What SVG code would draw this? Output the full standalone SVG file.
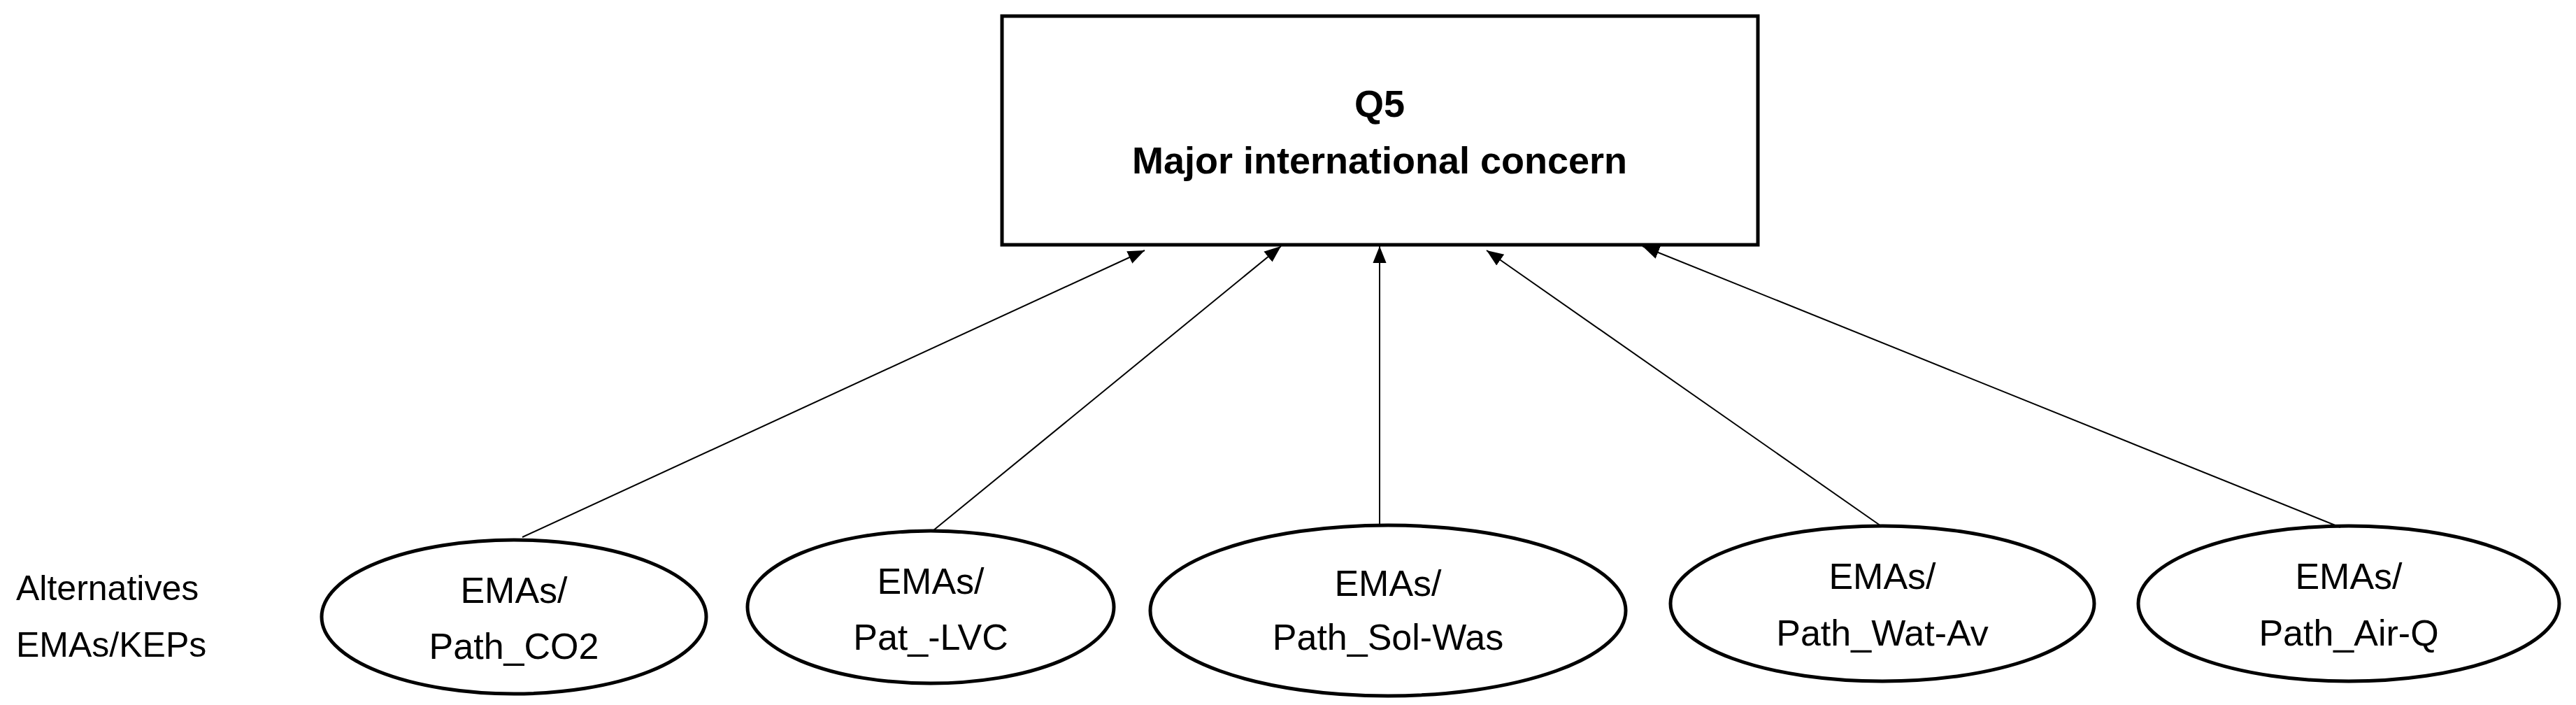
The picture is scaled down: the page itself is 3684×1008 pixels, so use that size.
<svg xmlns="http://www.w3.org/2000/svg" width="3684" height="1008" viewBox="0 0 3684 1008">
<style>
text{font-family:"Liberation Sans",Arial,sans-serif;fill:#000}
.t{font-size:52px;text-anchor:middle}
.b{font-size:54px;font-weight:bold;text-anchor:middle}
.n{fill:#fff;stroke:#000;stroke-width:5}
.c line{stroke:#000;stroke-width:2;marker-end:url(#ah2)}
</style>
<defs><marker id="ah2" viewBox="0 0 10 10" refX="10" refY="5" markerWidth="24" markerHeight="24" markerUnits="userSpaceOnUse" orient="auto"><path d="M0,1L10,5L0,9z" fill="#000"/></marker></defs>
<g id="goal"><rect class="n" x="1433" y="23" width="1081" height="327"/>
<text class="b" x="1973" y="167">Q5</text><text class="b" x="1973" y="248">Major international concern</text></g>
<g id="label"><text style="font-size:50px" x="23" y="858">Alternatives</text><text style="font-size:50px" x="23" y="939">EMAs/KEPs</text></g>
<g id="n1"><ellipse class="n" cx="735" cy="882" rx="275" ry="110"/><text class="t" x="735" y="862">EMAs/</text><text class="t" x="735" y="942">Path_CO2</text></g>
<g id="n2"><ellipse class="n" cx="1331" cy="868" rx="262" ry="109"/><text class="t" x="1331" y="849">EMAs/</text><text class="t" x="1331" y="929">Pat_-LVC</text></g>
<g id="n3"><ellipse class="n" cx="1985" cy="873" rx="340" ry="122"/><text class="t" x="1985" y="852">EMAs/</text><text class="t" x="1985" y="929">Path_Sol-Was</text></g>
<g id="n4"><ellipse class="n" cx="2692" cy="863" rx="303" ry="111"/><text class="t" x="2692" y="842">EMAs/</text><text class="t" x="2692" y="923">Path_Wat-Av</text></g>
<g id="n5"><ellipse class="n" cx="3359" cy="863" rx="301" ry="111"/><text class="t" x="3359" y="842">EMAs/</text><text class="t" x="3359" y="923">Path_Air-Q</text></g>
<g class="c" id="connectors">
<line x1="747" y1="768" x2="1637" y2="358"/>
<line x1="1334" y1="759" x2="1832" y2="352"/>
<line x1="1973" y1="749" x2="1973" y2="352"/>
<line x1="2690" y1="752" x2="2126" y2="358"/>
<line x1="3347" y1="754" x2="2349" y2="352"/>
</g>
</svg>
